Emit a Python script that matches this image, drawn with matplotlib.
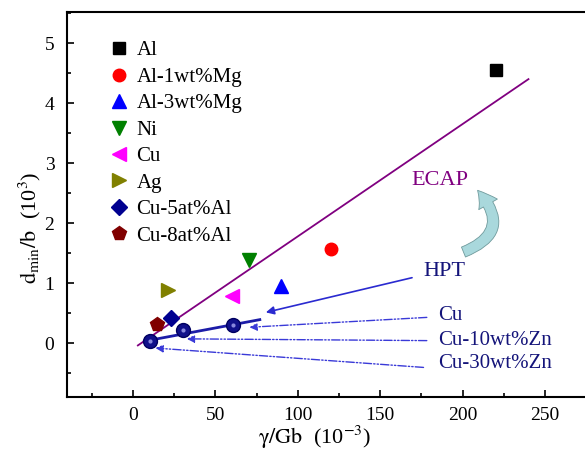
import numpy as np
import matplotlib
matplotlib.use("Agg")
import matplotlib.pyplot as plt
from matplotlib.patches import FancyArrowPatch
from matplotlib.ticker import MultipleLocator

plt.rcParams['font.family'] = ['Liberation Serif', 'DejaVu Serif']
plt.rcParams['mathtext.fontset'] = 'stix'

# ECAP data points (x = gamma/Gb *1e3, y = dmin/b /1e3)
labels = ['Al', 'Al-1wt%Mg', 'Al-3wt%Mg', 'Ni', 'Cu', 'Ag', 'Cu-5at%Al', 'Cu-8at%Al']
x_ecap = [220, 120, 90, 70.4, 60, 21.4, 23, 14.4]
y_ecap = [4.55, 1.57, 0.95, 1.39, 0.79, 0.88, 0.42, 0.32]
markers = ['s', 'o', '^', 'v', '<', '>', 'D', 'p']
colors = ['black', '#ff0000', '#0000ff', '#008000', '#ff00ff', '#808000', '#000090', '#800000']
msizes = [8, 9, 10, 10, 10, 10, 8, 10]

# ECAP fit line
ecap_fit_x = [3, 240]
ecap_fit_y = [-0.04, 4.40]

# HPT data (Cu, Cu-10wt%Zn, Cu-30wt%Zn)
x_hpt = [10.3, 30.5, 60.5]
y_hpt = [0.04, 0.21, 0.30]
hpt_fit_x = [7, 77]
hpt_fit_y = [0.03, 0.39]

hpt_names = ['Cu', 'Cu-10wt%Zn', 'Cu-30wt%Zn']
hpt_label_xy = [(185, 0.46), (185, 0.04), (185, -0.34)]
hpt_arrow_from = [(180, 0.43), (180, 0.04), (178, -0.41)]
hpt_arrow_to = [(69, 0.26), (31, 0.07), (12, -0.08)]

fig = plt.figure(figsize=(5.85, 4.53), dpi=100)
ax = fig.add_axes([0.1145, 0.1236, 0.8855, 0.85])

ax.plot(ecap_fit_x, ecap_fit_y, color='#800080', lw=1.3, zorder=2)
for xi, yi, m, c, s, lab in zip(x_ecap, y_ecap, markers, colors, msizes, labels):
    ax.plot(xi, yi, ls='none', marker=m, color=c, markersize=s, label=lab, zorder=3)

ax.plot(hpt_fit_x, hpt_fit_y, color='#1c1ca8', lw=2, zorder=3)
ax.plot(x_hpt, y_hpt, ls='none', marker='o', markersize=10, color='#10108a',
        markeredgecolor='#000060', zorder=4)
ax.plot(x_hpt, y_hpt, ls='none', marker='o', markersize=3, color='#8888dd',
        markeredgewidth=0, zorder=5)

# HPT pointer
ax.annotate('', xy=(79, 0.5), xytext=(171, 1.1),
            arrowprops=dict(arrowstyle='-|>', color='#2a2ad0', lw=1.2,
                            mutation_scale=12))
ax.text(176, 1.19, 'HPT', color='#14147a', fontsize=16, va='center', ha='left')

for name, lxy, a0, a1 in zip(hpt_names, hpt_label_xy, hpt_arrow_from, hpt_arrow_to):
    ax.annotate('', xy=a1, xytext=a0,
                arrowprops=dict(arrowstyle='-|>', color='#3a3ad8', lw=1.0,
                                ls=(0, (6, 1.5, 1, 1.5, 1, 1.5)), mutation_scale=11))
    ax.text(lxy[0], lxy[1], name, color='#14147a', fontsize=15, va='center', ha='left')

ax.text(186, 2.71, 'ECAP', color='#800080', fontsize=16, va='center', ha='center')

# curved arrow between HPT and ECAP
curl = FancyArrowPatch((199, 1.5), (208, 2.58),
                       connectionstyle='arc3,rad=0.75',
                       arrowstyle='simple,head_width=1.1,head_length=0.9,tail_width=0.55',
                       mutation_scale=14, facecolor='#a9d8dc', edgecolor='#6f9a9c', lw=0.6,
                       zorder=2)
ax.add_patch(curl)

ax.set_xlim(-40, 274.3)
ax.set_ylim(-0.9, 5.52)
ax.xaxis.set_major_locator(MultipleLocator(50))
ax.xaxis.set_minor_locator(MultipleLocator(25))
ax.yaxis.set_major_locator(MultipleLocator(1))
ax.yaxis.set_minor_locator(MultipleLocator(0.5))
ax.tick_params(which='both', direction='in', labelsize=14, width=1.2, top=False, right=False)
ax.tick_params(which='major', length=5)
ax.tick_params(which='minor', length=3)
ax.tick_params(axis='y', pad=9)
ax.tick_params(axis='x', pad=7)
ax.spines['right'].set_visible(False)
for sp in ['left', 'bottom', 'top']:
    ax.spines[sp].set_linewidth(1.5)

ax.set_xlabel(r'$\mathrm{\gamma/Gb}$  (10$^{-3}$)', fontsize=16)
ax.xaxis.set_label_coords(0.477, -0.07)
ax.set_ylabel(r'$\mathrm{d_{min}/b}$  (10$^{3}$)', fontsize=16)
ax.yaxis.set_label_coords(-0.046, 0.44)

ax.legend(loc='upper left', bbox_to_anchor=(0.08, 0.925), frameon=False, fontsize=15,
          handlelength=1.0, handletextpad=0.35, labelspacing=0.33, borderaxespad=0,
          borderpad=0)

fig.savefig('out.png', dpi=100)
